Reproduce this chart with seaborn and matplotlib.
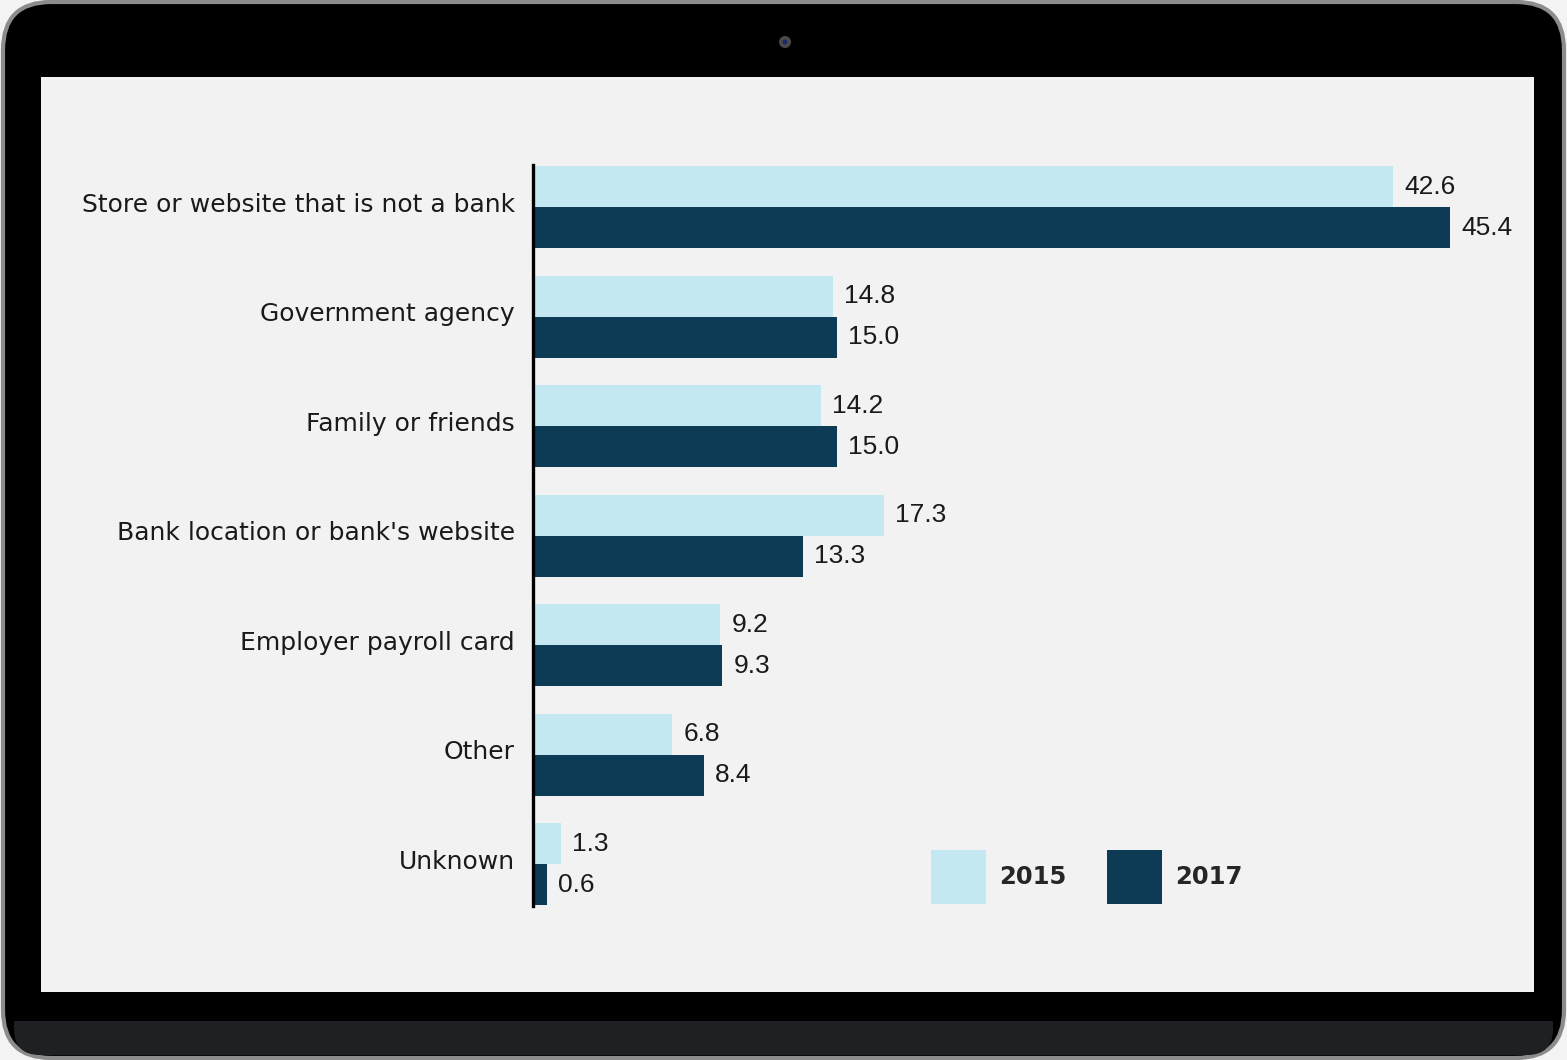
import matplotlib
matplotlib.use("Agg")
import matplotlib.pyplot as plt
from matplotlib.patches import FancyBboxPatch, Rectangle, Circle
from matplotlib.transforms import ScaledTranslation
import pandas as pd
import seaborn as sns

# Where people obtained their prepaid cards (% of households)
sources = [
    "Store or website that is not a bank",
    "Government agency",
    "Family or friends",
    "Bank location or bank's website",
    "Employer payroll card",
    "Other",
    "Unknown",
]
share_2015 = [42.6, 14.8, 14.2, 17.3, 9.2, 6.8, 1.3]
share_2017 = [45.4, 15.0, 15.0, 13.3, 9.3, 8.4, 0.6]
years = ["2015", "2017"]

LIGHT = "#c4e8f1"
DARK = "#0d3a54"
SCREEN = "#f2f2f2"

df = pd.DataFrame({
    "source": sources * 2,
    "share": share_2015 + share_2017,
    "year": [years[0]] * len(sources) + [years[1]] * len(sources),
})

sns.set_theme(style="white")
plt.rcParams["font.family"] = ["DejaVu Sans"]

W, H = 1567, 1060
DPI = 100
fig = plt.figure(figsize=(W / DPI, H / DPI), dpi=DPI, facecolor="#f3f3f3")

# ---- device frame, drawn in pixel coordinates ----
bg = fig.add_axes([0, 0, 1, 1], zorder=0)
bg.set_xlim(0, W)
bg.set_ylim(H, 0)
bg.axis("off")

bg.add_patch(FancyBboxPatch((3 + 48, 2 + 48), W - 6 - 96, H - 4 - 96,
                            boxstyle="round,pad=48", facecolor="#000000",
                            edgecolor="#8c8c8c", linewidth=3))
bg.add_patch(FancyBboxPatch((14 + 26, 1021), W - 28 - 52, 34 - 26,
                            boxstyle="round,pad=26", facecolor="#1f2023",
                            edgecolor="none"))
bg.add_patch(Rectangle((8, 992), W - 16, 29, facecolor="#000000", edgecolor="none"))
bg.add_patch(Rectangle((41, 77), 1534 - 41, 992 - 77, facecolor=SCREEN, edgecolor="none"))
bg.add_patch(Circle((785, 42), 6, facecolor="#4a4a4a", edgecolor="none"))
bg.add_patch(Circle((785, 42), 2.5, facecolor="#1c2a6a", edgecolor="none"))

# ---- bar chart on the screen ----
px_per_unit = 20.15
x0_px, x1_px = 535, 1534
top_px, bot_px = 165, 906
ax = fig.add_axes([x0_px / W, 1 - bot_px / H, (x1_px - x0_px) / W, (bot_px - top_px) / H],
                  zorder=2)
ax.set_facecolor("none")

sns.barplot(data=df, y="source", x="share", hue="year", orient="h",
            palette=[LIGHT, DARK], width=0.75, linewidth=0, saturation=1,
            ax=ax, legend=True)

ax.set_xlim(0, (x1_px - x0_px) / px_per_unit)
ax.set_ylim(6.38, -0.384)
ax.set_xlabel("")
ax.set_ylabel("")
ax.set_xticks([])
for side in ["top", "right", "bottom"]:
    ax.spines[side].set_visible(False)
ax.spines["left"].set_color("black")
ax.spines["left"].set_linewidth(2.4)
ax.spines["left"].set_position(("outward", 1.6))

ax.tick_params(axis="y", length=0, pad=13, labelsize=18, labelcolor="#1a1a1a")
for lab in ax.get_yticklabels():
    lab.set_transform(lab.get_transform() + ScaledTranslation(0, 5 / DPI, fig.dpi_scale_trans))

for cont in ax.containers:
    ax.bar_label(cont, fmt="%.1f", padding=8, fontsize=19,
                 family=["Liberation Sans", "DejaVu Sans"], color="#1a1a1a")

handles, labels = ax.get_legend_handles_labels()
ax.get_legend().remove()
fs = 17.5
fig.legend(handles, labels, loc="center left",
           bbox_to_anchor=(931 / W, 1 - 877 / H), bbox_transform=fig.transFigure,
           ncol=2, frameon=False, borderpad=0, borderaxespad=0,
           handlelength=2.26, handleheight=3.1, handletextpad=0.55,
           columnspacing=1.65, prop={"size": fs, "weight": "bold"})

fig.savefig("out.png", dpi=DPI, facecolor=fig.get_facecolor())
